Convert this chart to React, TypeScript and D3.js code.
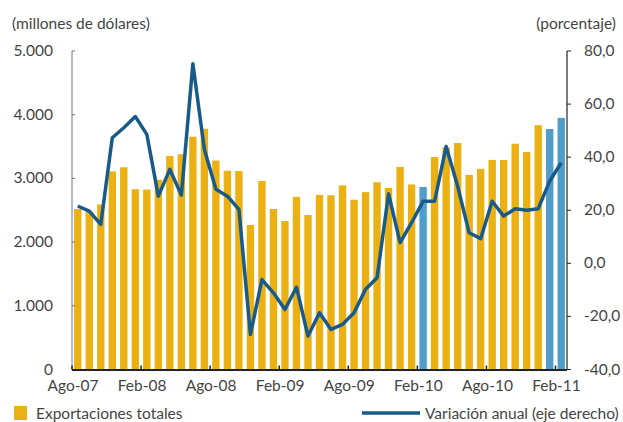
import React from 'react';
import * as d3 from 'd3';

// monthly, Ago-07 .. Feb-11
const months = [
  'Ago-07', 'Sep-07', 'Oct-07', 'Nov-07', 'Dic-07', 'Ene-08', 'Feb-08', 'Mar-08', 'Abr-08', 'May-08', 'Jun-08', 'Jul-08',
  'Ago-08', 'Sep-08', 'Oct-08', 'Nov-08', 'Dic-08', 'Ene-09', 'Feb-09', 'Mar-09', 'Abr-09', 'May-09', 'Jun-09', 'Jul-09',
  'Ago-09', 'Sep-09', 'Oct-09', 'Nov-09', 'Dic-09', 'Ene-10', 'Feb-10', 'Mar-10', 'Abr-10', 'May-10', 'Jun-10', 'Jul-10',
  'Ago-10', 'Sep-10', 'Oct-10', 'Nov-10', 'Dic-10', 'Ene-11', 'Feb-11',
];

// exportaciones totales (millones de dólares)
const exportaciones = [
  2520, 2480, 2590, 3110, 3175, 2830, 2825, 2980, 3350, 3380, 3655, 3780,
  3280, 3120, 3115, 2270, 2960, 2520, 2330, 2710, 2425, 2740, 2735, 2890,
  2665, 2785, 2940, 2850, 3180, 2905, 2865, 3335, 3485, 3555, 3055, 3150,
  3290, 3290, 3545, 3415, 3835, 3775, 3950,
];

// variación anual (%), eje derecho
const variacion = [
  21.6, 19.7, 14.7, 47.3, 51.1, 55.3, 48.6, 25.3, 35.4, 25.7, 75.2, 42.9,
  27.9, 25.3, 20.3, -26.8, -6.1, -11.1, -17.4, -9.0, -27.4, -18.6, -24.9, -23.0,
  -18.6, -9.8, -5.4, 26.2, 7.8, 15.3, 23.4, 23.4, 44.0, 29.1, 11.5, 9.3,
  23.4, 17.8, 20.6, 20.0, 20.6, 31.0, 37.9,
];

// bars drawn in blue
const destacados = ['Feb-10', 'Ene-11', 'Feb-11'];

const leftTicks = [0, 1000, 2000, 3000, 4000, 5000];
const rightTicks = [-40, -20, 0, 20, 40, 60, 80];
const xLabels = ['Ago-07', 'Feb-08', 'Ago-08', 'Feb-09', 'Ago-09', 'Feb-10', 'Ago-10', 'Feb-11'];

const W = 623;
const H = 422;
const left = 72;
const right = 567;
const top = 51;
const bottom = 369.5;

const font = 'Lato, "Open Sans", sans-serif';
const textColor = '#444';
const fs = 15.5;

const App = () => {
  const x = d3.scaleBand<string>().domain(months).range([left, right]).paddingInner(0.36).paddingOuter(0.18);
  const step = x.step();
  const yL = d3.scaleLinear().domain([0, 5000]).range([bottom, top]);
  const yR = d3.scaleLinear().domain([-40, 80]).range([bottom, top]);

  const fmtL = (v: number) => (v === 0 ? '0' : d3.format(',')(v).replace(',', '.'));
  const fmtR = (v: number) => d3.format('.1f')(v).replace('.', ',').replace('−', '-');

  const line = d3
    .line<number>()
    .x((_, i) => x(months[i])! + x.bandwidth() / 2)
    .y((d) => yR(d));

  // tick at left edge of a month's slot
  const slot = (m: string) => left + months.indexOf(m) * step;

  return (
    <svg width={W} height={H} style={{ display: 'block', position: 'absolute', left: 0, top: 0 }} fontFamily={font}>
      <rect width={W} height={H} fill="#fff" />
      <text x={12} y={29} fontSize={fs} fill={textColor}>(millones de dólares)</text>
      <text x={616} y={29} fontSize={fs} fill={textColor} textAnchor="end">(porcentaje)</text>

      {exportaciones.map((v, i) => (
        <rect
          key={months[i]}
          x={x(months[i])}
          y={yL(v)}
          width={x.bandwidth()}
          height={yL(0) - yL(v)}
          fill={destacados.includes(months[i]) ? '#4f9dc8' : '#ebb112'}
        />
      ))}

      {/* left axis */}
      <line x1={left} x2={left} y1={top} y2={bottom} stroke="#777" strokeWidth={1} />
      {leftTicks.map((t) => (
        <g key={t}>
          <line x1={left} x2={left + 3} y1={yL(t)} y2={yL(t)} stroke="#777" />
          <text x={53} y={yL(t) + 5} fontSize={fs} fill={textColor} textAnchor="end">{fmtL(t)}</text>
        </g>
      ))}

      {/* right axis */}
      <line x1={right} x2={right} y1={top} y2={bottom} stroke="#222" strokeWidth={1.2} />
      {rightTicks.map((t) => (
        <g key={t}>
          <line x1={right} x2={right + 4} y1={yR(t)} y2={yR(t)} stroke="#222" />
          <text x={584} y={yR(t) + 5} fontSize={fs} fill={textColor}>{fmtR(t)}</text>
        </g>
      ))}

      {/* bottom axis */}
      <line x1={left} x2={right} y1={bottom + 0.5} y2={bottom + 0.5} stroke="#222" strokeWidth={2} />
      {xLabels.map((m) => (
        <g key={m}>
          <line x1={slot(m)} x2={slot(m)} y1={bottom} y2={bottom - 4} stroke="#222" strokeWidth={1.5} />
          <text x={slot(m) + 1} y={391} fontSize={fs} fill={textColor} textAnchor="middle">{m}</text>
        </g>
      ))}

      <path d={line(variacion)!} fill="none" stroke="#185b8b" strokeWidth={3.5} strokeLinejoin="round" />

      {/* legend */}
      <rect x={14} y={406} width={13} height={14} fill="#ebb112" />
      <text x={36} y={419} fontSize={fs} fill={textColor}>Exportaciones totales</text>
      <line x1={362} x2={420} y1={413} y2={413} stroke="#185b8b" strokeWidth={3.5} />
      <text x={425} y={419} fontSize={fs} fill={textColor}>Variación anual (eje derecho)</text>
    </svg>
  );
};

export default App;
